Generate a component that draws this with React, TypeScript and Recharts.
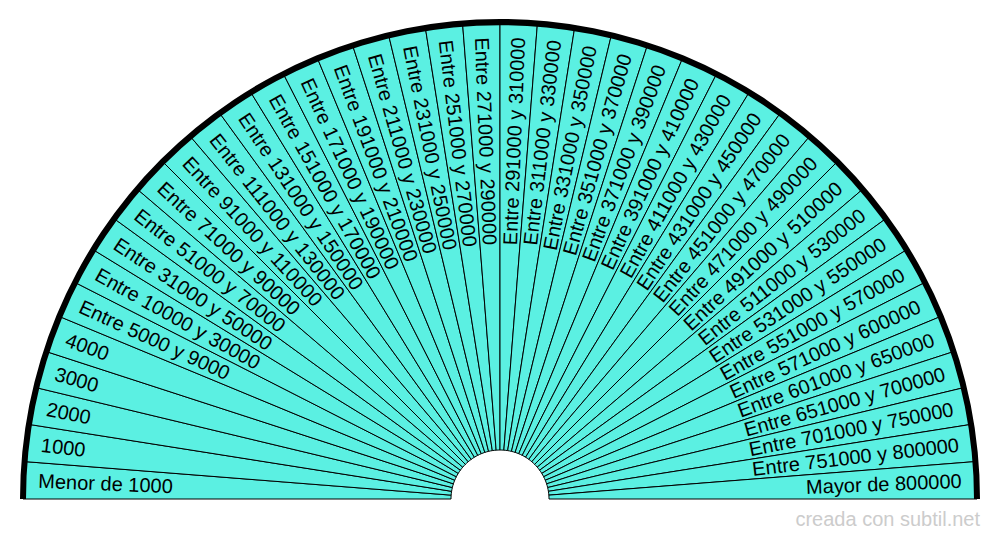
import React from 'react'
import { PieChart, Pie, Cell } from 'recharts'

// tramos, de izquierda a derecha
const categories = [
  'Menor de 1000',
  '1000',
  '2000',
  '3000',
  '4000',
  'Entre 5000 y 9000',
  'Entre 10000 y 30000',
  'Entre 31000 y 50000',
  'Entre 51000 y 70000',
  'Entre 71000 y 90000',
  'Entre 91000 y 110000',
  'Entre 111000 y 130000',
  'Entre 131000 y 150000',
  'Entre 151000 y 170000',
  'Entre 171000 y 190000',
  'Entre 191000 y 210000',
  'Entre 211000 y 230000',
  'Entre 231000 y 250000',
  'Entre 251000 y 270000',
  'Entre 271000 y 290000',
  'Entre 291000 y 310000',
  'Entre 311000 y 330000',
  'Entre 331000 y 350000',
  'Entre 351000 y 370000',
  'Entre 371000 y 390000',
  'Entre 391000 y 410000',
  'Entre 411000 y 430000',
  'Entre 431000 y 450000',
  'Entre 451000 y 470000',
  'Entre 471000 y 490000',
  'Entre 491000 y 510000',
  'Entre 511000 y 530000',
  'Entre 531000 y 550000',
  'Entre 551000 y 570000',
  'Entre 571000 y 600000',
  'Entre 601000 y 650000',
  'Entre 651000 y 700000',
  'Entre 701000 y 750000',
  'Entre 751000 y 800000',
  'Mayor de 800000',
]

// every slice has the same weight
const weights = categories.map(() => 1)

const rim = [{ name: 'rim', value: 1 }]

const FONT = '"Liberation Sans", Arial, sans-serif'
const FILL = '#5BF0E2'
const W = 1000
const H = 540
const CX = 500
const CY = 499

const data = categories.map((name, i) => ({ name, value: weights[i] }))

const RADIAN = Math.PI / 180

function renderLabel(props: any) {
  const { cx, cy, midAngle, name } = props
  const r = 462
  const x = cx + r * Math.cos(-midAngle * RADIAN)
  const y = cy + r * Math.sin(-midAngle * RADIAN)
  const left = midAngle > 90
  const rot = left ? 180 - midAngle : -midAngle
  return (
    <text
      x={x}
      y={y}
      fill="#000"
      fontSize={20}
      fontFamily={FONT}
      textAnchor={left ? 'start' : 'end'}
      dominantBaseline="central"
      transform={`rotate(${rot} ${x} ${y})`}
    >
      {name}
    </text>
  )
}

export default function App() {
  return (
    <div style={{ position: 'absolute', left: 0, top: 0, width: W, height: H, background: '#fff' }}>
      <PieChart width={W} height={H} margin={{ top: 0, right: 0, bottom: 0, left: 0 }}>
        <Pie
          data={data}
          dataKey="value"
          nameKey="name"
          cx={CX}
          cy={CY}
          startAngle={180}
          endAngle={0}
          innerRadius={49}
          outerRadius={477}
          stroke="#000"
          strokeWidth={1}
          label={renderLabel}
          labelLine={false}
          isAnimationActive={false}
        >
          {data.map((d) => (
            <Cell key={d.name} fill={FILL} />
          ))}
        </Pie>
        <Pie
          data={rim}
          dataKey="value"
          cx={CX}
          cy={CY}
          startAngle={180}
          endAngle={0}
          innerRadius={474}
          outerRadius={480}
          fill="#000"
          stroke="none"
          isAnimationActive={false}
        />
      </PieChart>
      <svg width={W} height={H} style={{ position: 'absolute', left: 0, top: 0, pointerEvents: 'none' }}>
        <text x={980} y={526} textAnchor="end" fontSize={20} fontFamily={FONT} fill="#cccccc">
          creada con subtil.net
        </text>
      </svg>
    </div>
  )
}
